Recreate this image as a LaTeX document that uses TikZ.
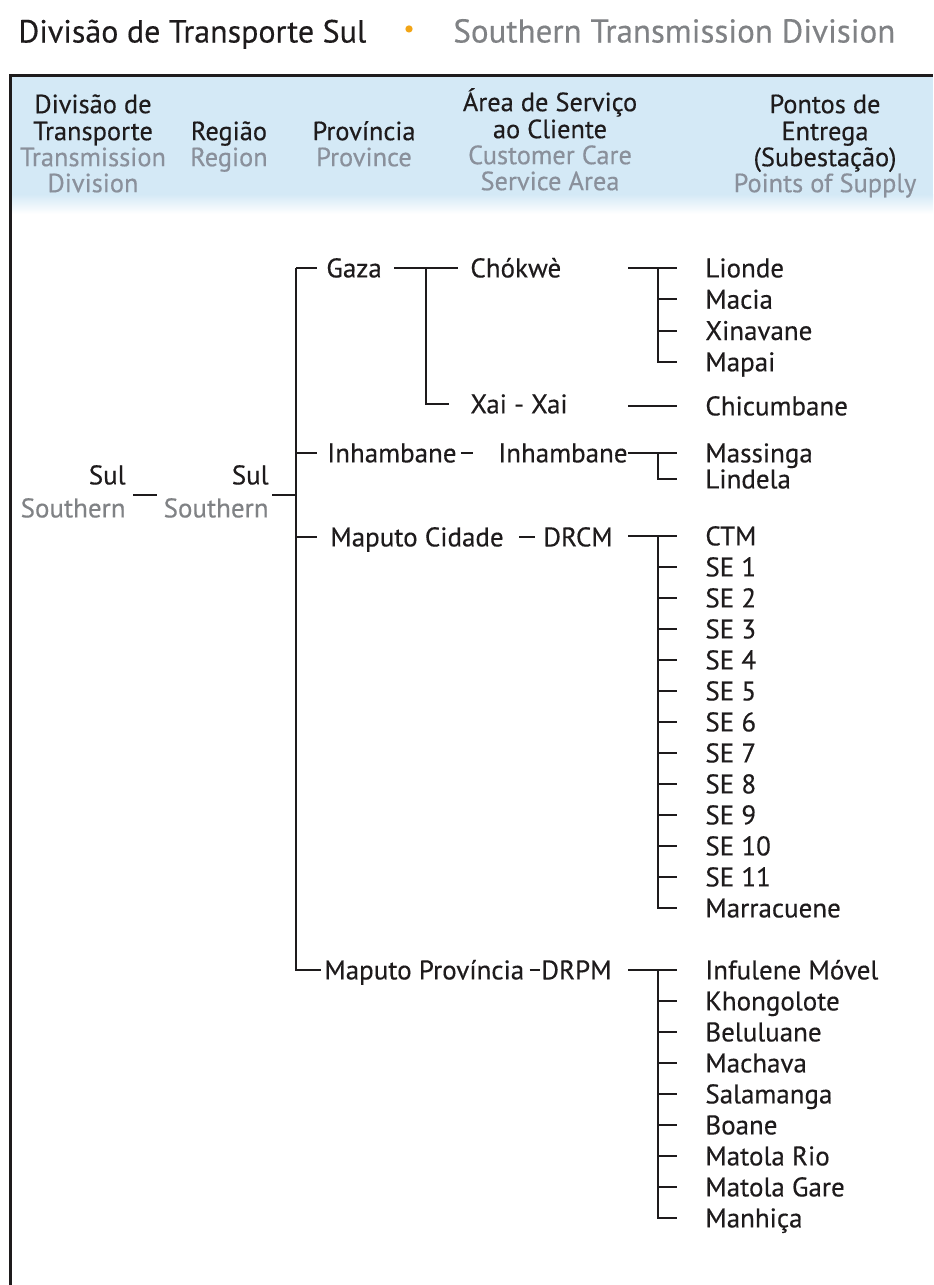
\documentclass[tikz,border=0pt]{standalone}
\usepackage{fontspec}
\setmainfont{PT Sans}[FakeBold=0.35]
\usetikzlibrary{positioning,calc}
\definecolor{Ink}{HTML}{1E1B1C}
\definecolor{Muted}{HTML}{808285}
\definecolor{HeadGray}{HTML}{8A909B}
\definecolor{Band}{HTML}{D4E9F6}
\definecolor{Amber}{HTML}{F2A516}

\tikzset{
  leaf/.style={anchor=west, inner sep=0pt, text height=9.4pt, text depth=0pt,
    text=Ink, font=\fontsize{13.5}{16}\selectfont},
  leafgray/.style={leaf, text=Muted},
  head/.style={anchor=center, inner sep=0pt, text height=9.2pt, text depth=0pt,
    text=Ink, font=\fontsize{13.2}{15}\selectfont},
  headgray/.style={head, text=HeadGray},
  link/.style={draw=Ink, line width=1pt},
  twig/.style={link, shorten >=14pt},
}

\begin{document}
\begin{tikzpicture}[x=0.5pt,y=-0.5pt]
  \useasboundingbox (0,0) rectangle (933,1285);

  % title line
  \node[anchor=west, inner sep=0pt, text height=11.5pt, text depth=0pt, text=Ink,
    font=\fontsize{16}{20}\selectfont] (titlePT) at (18,31) {Divisão de Transporte Sul};
  \node[inner sep=0pt, text=Amber, font=\fontsize{12}{14}\selectfont] (titleDot) at (409,31) {•};
  \node[anchor=west, inner sep=0pt, text height=11.5pt, text depth=0pt, text=Muted,
    font=\fontsize{16.5}{20}\selectfont] (titleEN) at (453,31) {Southern Transmission Division};

  % header band and frame
  \fill[Band] (11,77) rectangle (933,194);
  \shade[top color=Band, bottom color=white] (11,194) rectangle (933,214);
  \draw[Ink, line width=1.7pt] (10.5,1285) -- (10.5,75.5) -- (933,75.5);

  % column heads
  \node[head] (h1a) at (93,104) {Divisão de};
  \node[head] (h1b) at (93,131) {Transporte};
  \node[headgray] (h1c) at (93,157) {Transmission};
  \node[headgray] (h1d) at (93,183) {Division};
  \node[head] (h2a) at (229,131) {Região};
  \node[headgray] (h2b) at (229,157) {Region};
  \node[head] (h3a) at (364,131) {Província};
  \node[headgray] (h3b) at (364,157) {Province};
  \node[head] (h4a) at (550,102) {Área de Serviço};
  \node[head] (h4b) at (550,129) {ao Cliente};
  \node[headgray] (h4c) at (550,155) {Customer Care};
  \node[headgray] (h4d) at (550,181) {Service Area};
  \node[head] (h5a) at (825,104) {Pontos de};
  \node[head] (h5b) at (825,131) {Entrega};
  \node[head] (h5c) at (825,157) {(Subestação)};
  \node[headgray] (h5d) at (825,183) {Points of Supply};

  % rails
  \coordinate (mid) at (0,495);
  \coordinate (bus) at (296,0);
  \coordinate (fork) at (426,0);
  \coordinate (tap) at (628,0);
  \coordinate (rail) at (658,0);

  % division and region
  \node[leaf, anchor=east] (sulDiv) at (126,475) {Sul};
  \node[leafgray, anchor=east] (sthDiv) at (126,508) {Southern};
  \node[leaf, anchor=east] (sulReg) at (269,475) {Sul};
  \node[leafgray, anchor=east] (sthReg) at (269,508) {Southern};

  % provinces
  \node[leaf] (gaza) at (326,268) {Gaza};
  \node[leaf] (inhProv) at (327,453) {Inhambane};
  \node[leaf] (mapCid) at (330,537) {Maputo Cidade};
  \node[leaf] (mapProv) at (324,970) {Maputo Província};

  % service areas
  \node[leaf] (chokwe) at (470,268) {Chókwè};
  \node[leaf] (xai) at (470,404) {Xai - Xai};
  \node[leaf] (inhArea) at (498,453) {Inhambane};
  \node[leaf] (drcm) at (543,537) {DRCM};
  \node[leaf] (drpm) at (541,970) {DRPM};

  % points of supply
  \foreach \t [count=\k from 0] in {Lionde,Macia,Xinavane,Mapai}
    \node[leaf] (ck\k) at (705,{268+31.3*\k}) {\t};
  \node[leaf] (chicumbane) at (705,406) {Chicumbane};
  \node[leaf] (massinga) at (705,453) {Massinga};
  \node[leaf] (lindela) at (705,479) {Lindela};
  \foreach \t [count=\k from 0] in {CTM,SE 1,SE 2,SE 3,SE 4,SE 5,SE 6,SE 7,SE 8,SE 9,SE 10,SE 11,Marracuene}
    \node[leaf] (dc\k) at (705,{536+31.0*\k}) {\t};
  \foreach \t [count=\k from 0] in {Infulene Móvel,Khongolote,Beluluane,Machava,Salamanga,Boane,Matola Rio,Matola Gare,Manhiça}
    \node[leaf] (dp\k) at (705,{970+31.0*\k}) {\t};

  % connectors, left part
  \draw[link, shorten <=3.5pt, shorten >=3pt] (sthDiv.east |- mid) -- (sthReg.west |- mid);
  \draw[link, shorten <=1.5pt] (sthReg.east |- mid) -- (bus |- mid);
  \draw[link, shorten >=1.5pt] (bus |- gaza.west) |- (mapProv.west);
  \draw[link, shorten >=4.5pt] (bus |- gaza.west) -- (gaza.west);
  \draw[link, shorten >=5pt] (bus |- inhProv.west) -- (inhProv.west);
  \draw[link, shorten >=6.5pt] (bus |- mapCid.west) -- (mapCid.west);

  % province to service area
  \draw[link, shorten <=6pt, shorten >=6pt] (gaza.east) -- (chokwe.west);
  \draw[link, shorten >=10.5pt] (fork |- gaza.west) |- (xai.west);
  \draw[link, shorten <=2pt, shorten >=12.5pt] (inhProv.east) -- (inhArea.west);
  \draw[link, shorten <=7.5pt, shorten >=4pt] (mapCid.east) -- (drcm.west);
  \draw[link, shorten <=2.5pt, shorten >=0.5pt] (mapProv.east) -- (drpm.west);

  % service area to points of supply
  \draw[twig] (tap |- ck0.west) -- (ck0.west);
  \draw[twig] (rail |- ck0.west) |- (ck3.west);
  \foreach \k in {1,2} \draw[twig] (rail |- ck\k.west) -- (ck\k.west);
  \draw[twig] (tap |- chicumbane.west) -- (chicumbane.west);
  \draw[twig] (inhArea.east) -- (massinga.west);
  \draw[twig] (rail |- massinga.west) |- (lindela.west);
  \draw[twig] (tap |- dc0.west) -- (dc0.west);
  \draw[twig] (rail |- dc0.west) |- (dc12.west);
  \foreach \k in {1,...,11} \draw[twig] (rail |- dc\k.west) -- (dc\k.west);
  \draw[twig] (tap |- dp0.west) -- (dp0.west);
  \draw[twig] (rail |- dp0.west) |- (dp8.west);
  \foreach \k in {1,...,7} \draw[twig] (rail |- dp\k.west) -- (dp\k.west);
\end{tikzpicture}
\end{document}
